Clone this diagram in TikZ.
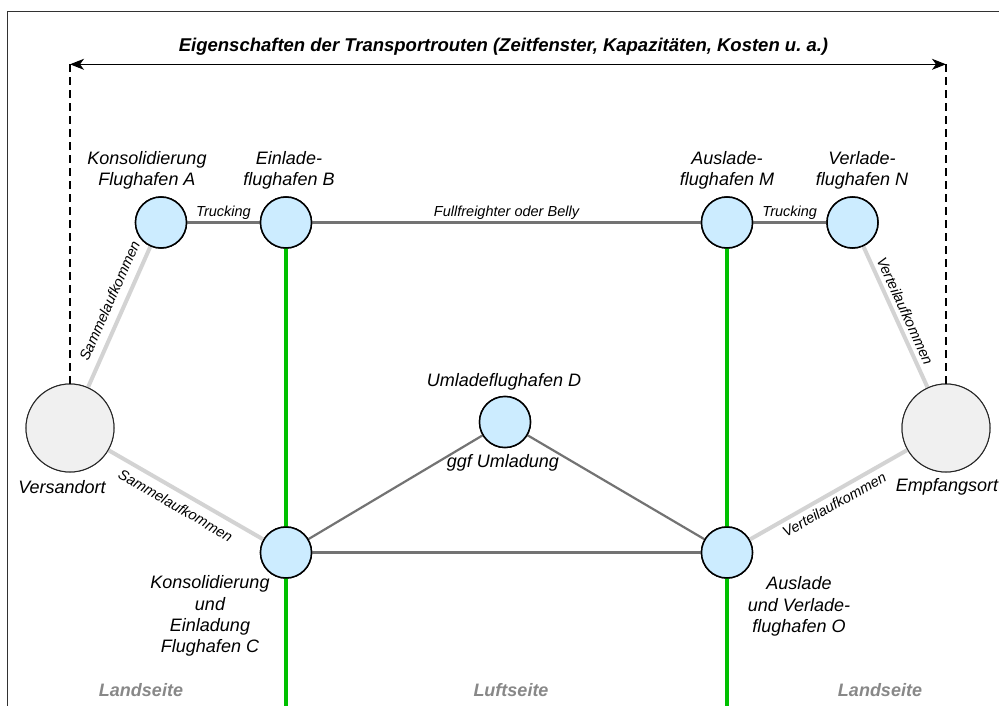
\documentclass[tikz,border=0pt]{standalone}
\usepackage{fontspec}
\setmainfont{Liberation Sans}
\usetikzlibrary{arrows.meta}
\definecolor{nodeblue}{RGB}{204,236,255}
\definecolor{bigfill}{RGB}{240,240,240}
\definecolor{edgegray}{RGB}{115,115,115}
\definecolor{lightline}{RGB}{211,211,211}
\definecolor{greenline}{RGB}{0,192,0}
\definecolor{sidegray}{RGB}{136,136,136}
\definecolor{framegray}{RGB}{50,50,50}
\begin{document}
\begin{tikzpicture}[x=1pt,y=-1pt,
  airport/.style={circle, draw=black, line width=1.5pt, fill=nodeblue, minimum size=51pt, inner sep=0pt},
  place/.style={circle, draw=black!85, line width=1pt, fill=bigfill, minimum size=88pt, inner sep=0pt},
  lbl/.style={font=\fontsize{18}{21.3}\selectfont\itshape, align=center, inner sep=0pt},
  small/.style={font=\fontsize{14.5}{17}\selectfont\itshape, inner sep=2pt},
  side/.style={font=\fontsize{18}{21}\selectfont\bfseries\itshape, text=sidegray, inner sep=0pt},
  titlestyle/.style={font=\fontsize{18.5}{21}\selectfont\bfseries\itshape, inner sep=0pt},
  air/.style={draw=edgegray, line width=2.2pt},
  land/.style={draw=lightline, line width=4pt},
  airside/.style={draw=greenline, line width=4pt},
  guide/.style={draw=black, line width=1.1pt, dash pattern=on 8pt off 5pt},
  span/.style={draw=black, line width=1.1pt, {Stealth[length=14pt,width=11pt,inset=4pt]}-{Stealth[length=14pt,width=11pt,inset=4pt]}}
]
\useasboundingbox (0,0) rectangle (999,706);
% frame
\draw[framegray, line width=1.6pt] (999,11.5) -- (7.5,11.5) -- (7.5,706);

% nodes (positions)
\node[airport] (A) at (161,222.5) {};
\node[airport] (B) at (286,222.5) {};
\node[airport] (M) at (727,222.5) {};
\node[airport] (N) at (852.5,222.5) {};
\node[airport] (D) at (505,422) {};
\node[airport] (C) at (286,552.5) {};
\node[airport] (O) at (727,552.5) {};
\node[place] (V) at (70,428) {};
\node[place] (E) at (946,428) {};

\coordinate (gB) at (286,706);
\coordinate (gM) at (727,706);
\coordinate (al) at (70,64.3);
\coordinate (ar) at (946,64.3);

% green air/land boundaries
\draw[airside] (B.center) -- (gB);
\draw[airside] (M.center) -- (gM);

% connectors
\draw[air] (A) -- node[small, above, midway] {Trucking} (B);
\draw[air] (B) -- node[small, above, midway] {Fullfreighter oder Belly} (M);
\draw[air] (M) -- node[small, above, midway] {Trucking} (N);
\draw[air] (C) -- (D);
\draw[air] (D) -- (O);
\draw[air] (C) -- (O);
\draw[land] (V) -- node[small, sloped, above=6pt, pos=0.57] {Sammelaufkommen} (A);
\draw[land] (V) -- node[small, sloped, below=5pt, pos=0.48] {Sammelaufkommen} (C);
\draw[land] (N) -- node[small, sloped, above=2pt, pos=0.49] {Verteilaufkommen} (E);
\draw[land] (O) -- node[small, sloped, below=2pt, pos=0.5] {Verteilaufkommen} (E);

% redraw nodes on top
\node[airport] at (A) {};
\node[airport] at (B) {};
\node[airport] at (M) {};
\node[airport] at (N) {};
\node[airport] at (D) {};
\node[airport] at (C) {};
\node[airport] at (O) {};
\node[place] at (V) {};
\node[place] at (E) {};

% span arrow and guides
\draw[span] (al) -- (ar);
\draw[guide] (al) -- (V.north);
\draw[guide] (ar) -- (E.north);
\node[titlestyle] (title) at (503.5,47) {Eigenschaften der Transportrouten (Zeitfenster, Kapazitäten, Kosten u.\ a.)};

% labels
\node[lbl] (lA) at (147,170.5) {Konsolidierung\\Flughafen A};
\node[lbl] (lB) at (289,170.5) {Einlade-\\flughafen B};
\node[lbl] (lM) at (727,170.5) {Auslade-\\flughafen M};
\node[lbl] (lN) at (862,170.5) {Verlade-\\flughafen N};
\node[lbl] (lD1) at (504,381.5) {Umladeflughafen D};
\node[lbl] (lD2) at (503,463) {ggf Umladung};
\node[lbl] (lV) at (62,487) {Versandort};
\node[lbl] (lE) at (947,487) {Empfangsort};
\node[lbl] (lC) at (210,616) {Konsolidierung\\und\\Einladung\\Flughafen C};
\node[lbl] (lO) at (799,606.5) {Auslade\\und Verlade-\\flughafen O};

\node[side] (s1) at (141,690.5) {Landseite};
\node[side] (s2) at (511,690.5) {Luftseite};
\node[side] (s3) at (880,690.5) {Landseite};
\end{tikzpicture}
\end{document}
